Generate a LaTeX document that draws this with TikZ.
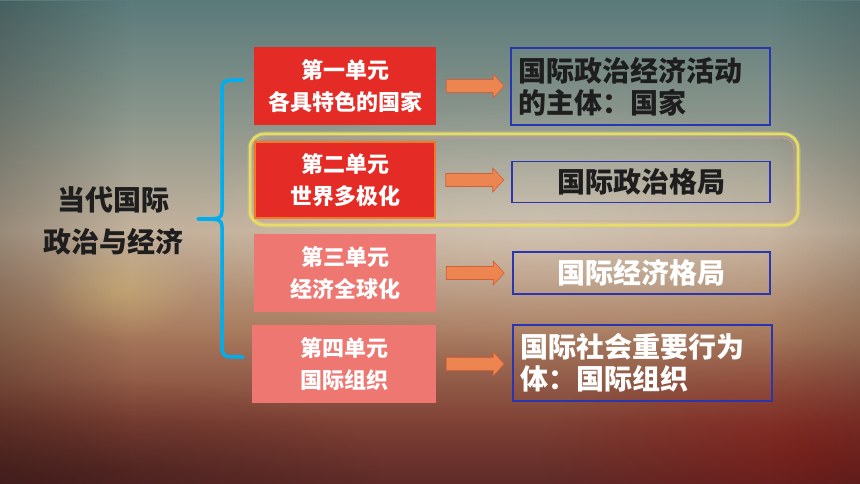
\documentclass[tikz,border=0pt]{standalone}
\usepackage{fontspec}
\newfontfamily\cjk{Noto Sans CJK SC}
\usetikzlibrary{fadings,calc}
\definecolor{bgA}{HTML}{5A7A7A}
\definecolor{bgB}{HTML}{8C968C}
\definecolor{bgC}{HTML}{C4B29C}
\definecolor{bgD}{HTML}{A87B5E}
\definecolor{bgE}{HTML}{804236}
\definecolor{bgF}{HTML}{5E2A28}
\definecolor{unitred}{HTML}{E52B25}
\definecolor{unitpink}{HTML}{EE7772}
\definecolor{arrfill}{HTML}{EC8550}
\definecolor{arrline}{HTML}{D25F3B}
\definecolor{boxblue}{HTML}{2A35B0}
\definecolor{bracecyan}{HTML}{00AEEF}
\definecolor{frameyellow}{HTML}{E6DC6A}
\definecolor{framepink}{HTML}{D8A090}
\definecolor{darktext}{HTML}{1E1E1E}
\tikzfading[name=softcirc, inner color=transparent!0, outer color=transparent!100]
\tikzset{
  unitbox/.style={inner sep=0pt, minimum width=182pt, minimum height=78pt, align=center,
    text=white, font=\cjk\bfseries\fontsize{22}{32}\selectfont},
  resbox/.style={draw=boxblue, line width=1.2pt, inner sep=0pt, align=left,
    font=\cjk\bfseries\fontsize{28}{32}\selectfont},
  fatarrow/.style={fill=arrfill, draw=arrline, line width=0.6pt},
  bracestyle/.style={draw=bracecyan, line width=3.5pt, line cap=round, line join=round},
}
\begin{document}
\begin{tikzpicture}[x=1pt,y=-1pt]
\useasboundingbox (0,0) rectangle (860,484);
% background
\shade[top color=bgA, bottom color=bgB] (0,0) rectangle (860,121);
\shade[top color=bgB, bottom color=bgC] (0,120) rectangle (860,231);
\shade[top color=bgC, bottom color=bgD] (0,230) rectangle (860,331);
\shade[top color=bgD, bottom color=bgE] (0,330) rectangle (860,421);
\shade[top color=bgE, bottom color=bgF] (0,420) rectangle (860,484);
\fill[black, opacity=0.22, path fading=east] (0,0) rectangle (130,484);
\fill[black, opacity=0.12, path fading=west] (770,0) rectangle (860,484);
\fill[white, opacity=0.22, path fading=softcirc] (540,230) ellipse (360 and 130);
\fill[yellow!60!white, opacity=0.18, path fading=softcirc] (120,290) ellipse (80 and 50);
\fill[red!55!black, opacity=0.35, path fading=softcirc] (800,450) ellipse (260 and 110);
\fill[black, opacity=0.2, path fading=softcirc] (120,470) ellipse (260 and 90);

% highlight frame
\draw[line width=5pt, draw=frameyellow, opacity=0.35, rounded corners=15pt] (250,134) rectangle (798,225);
\draw[line width=2.5pt, draw=frameyellow, rounded corners=14pt] (250,134) rectangle (798,225);
\draw[line width=0.8pt, draw=framepink, rounded corners=11pt] (254,138) rectangle (794,221);

% left title
\node[font=\cjk\bfseries\fontsize{28}{42}\selectfont, text=darktext, align=center] (title) at (113,221) {当代国际\\政治与经济};

% unit boxes
\node[unitbox, fill=unitred] (u1) at (345,86) {第一单元\\各具特色的国家};
\node[unitbox, fill=unitred, draw={rgb,255:red,240;green,120;blue,40}, line width=1.5pt, minimum width=180pt, minimum height=76pt] (u2) at (345,180) {第二单元\\世界多极化};
\node[unitbox, fill=unitpink] (u3) at (345,273) {第三单元\\经济全球化};
\node[unitbox, fill=unitpink, minimum width=184pt] (u4) at (344,364) {第四单元\\国际组织};

% result boxes
\node[resbox, minimum width=259pt, minimum height=77pt, text width=245pt, text=darktext] (r1) at (640.5,86.5) {国际政治经济活动\\的主体：国家};
\node[resbox, minimum width=258pt, minimum height=41pt, align=center, text=darktext] (r2) at (641,182) {国际政治格局};
\node[resbox, minimum width=257pt, minimum height=42pt, align=center, text=white] (r3) at (641.5,273) {国际经济格局};
\node[resbox, minimum width=259pt, minimum height=76pt, text width=245pt, text=white] (r4) at (642.5,363) {国际社会重要行为\\体：国际组织};

% arrows
\foreach \u/\r in {u1/r1,u2/r2,u3/r3,u4/r4}{
  \draw[fatarrow] ($(\u.east)+(10,-6.5)$) -- ++(47,0) -- ++(0,-5.5) -- ++(11,12) -- ++(-11,12) -- ++(0,-5.5) -- ++(-47,0) -- cycle;
}

% brace
\coordinate (btop) at (243,80);
\coordinate (bmid) at (198,219);
\coordinate (bbot) at (243,357);
\draw[bracestyle] (btop) .. controls (224,80) .. (222,87) -- (222,211) .. controls (221,219) .. (bmid);
\draw[bracestyle] (bmid) .. controls (221,219) .. (222,227) -- (222,350) .. controls (224,357) .. (bbot);
\end{tikzpicture}
\end{document}
